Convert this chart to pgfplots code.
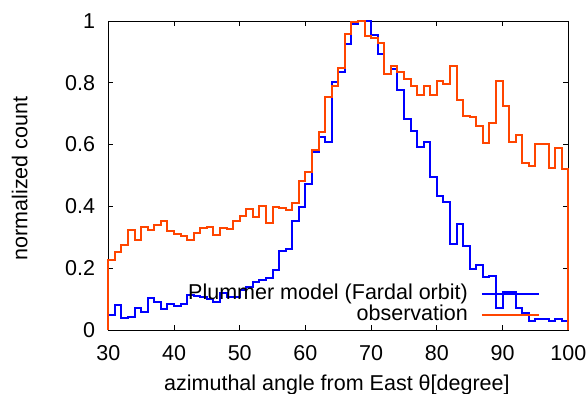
\documentclass[border=0pt]{standalone}
\usepackage{pgfplots}
\pgfplotsset{compat=1.18}
\usepackage{pgfplotstable}
\usepackage{fontspec}
\setmainfont{Liberation Sans}
\definecolor{obs}{RGB}{255,69,0}
\definecolor{mdl}{RGB}{0,0,255}
\newcommand{\chartfont}{\fontsize{21.5bp}{25bp}\selectfont}

\pgfplotstableread{
x y
30 0
30 0.050
31 0.080
32 0.039
33 0.042
34 0.072
35 0.057
36 0.102
37 0.092
38 0.068
39 0.084
40 0.077
41 0.083
42 0.113
43 0.110
44 0.106
45 0.101
46 0.092
47 0.121
48 0.106
49 0.106
50 0.129
51 0.140
52 0.155
53 0.162
54 0.167
55 0.194
56 0.257
57 0.261
58 0.354
59 0.397
60 0.471
61 0.577
62 0.626
63 0.609
64 0.801
65 0.834
66 0.925
67 0.990
68 1.000
69 1.000
70 0.955
71 0.893
72 0.829
73 0.845
74 0.778
75 0.684
76 0.644
77 0.592
78 0.610
79 0.495
80 0.434
81 0.414
82 0.279
83 0.344
84 0.272
85 0.196
86 0.210
87 0.170
88 0.175
89 0.070
90 0.124
91 0.122
92 0.070
93 0.054
94 0.030
95 0.037
96 0.037
97 0.030
98 0.037
99 0.030
100 0.030
100 0
}\model

\pgfplotstableread{
x y
30 0
30 0.227
31 0.253
32 0.275
33 0.324
34 0.291
35 0.334
36 0.324
37 0.340
38 0.354
39 0.320
40 0.311
41 0.304
42 0.290
43 0.315
44 0.329
45 0.334
46 0.306
47 0.331
48 0.326
49 0.354
50 0.370
51 0.390
52 0.366
53 0.401
54 0.346
55 0.399
56 0.396
57 0.389
58 0.411
59 0.483
60 0.512
61 0.583
62 0.640
63 0.755
64 0.790
65 0.847
66 0.958
67 0.998
68 1.000
69 0.950
70 0.946
71 0.930
72 0.829
73 0.853
74 0.836
75 0.812
76 0.790
77 0.760
78 0.790
79 0.760
80 0.806
81 0.796
82 0.855
83 0.745
84 0.693
85 0.690
86 0.660
87 0.604
88 0.669
89 0.806
90 0.726
91 0.610
92 0.630
93 0.539
94 0.530
95 0.602
96 0.602
97 0.523
98 0.588
99 0.521
100 0.521
100 0
}\observ

\begin{document}
\begin{tikzpicture}
\useasboundingbox (-108.3bp,-64bp) rectangle (478.7bp,330bp);
\begin{axis}[
  scale only axis,
  width=460bp, height=309bp,
  xmin=30, xmax=100, ymin=0, ymax=1,
  clip=false,
  xtick={30,40,50,60,70,80,90,100},
  xticklabels={30,40,50,60,70,80,90,100},
  ytick={0,0.2,0.4,0.6,0.8,1},
  yticklabels={0,0.2,0.4,0.6,0.8,1},
  tick align=inside,
  major tick length=5bp,
  tick style={black, line width=0.8bp},
  axis line style={black, line width=0.8bp},
  xticklabel style={font=\chartfont, anchor=base, inner sep=0pt, yshift=-30bp},
  yticklabel style={font=\chartfont, anchor=east, inner sep=0pt, xshift=-13bp},
  xlabel={azimuthal angle from East θ[degree]},
  ylabel={normalized count},
  xlabel style={font=\chartfont, at={(axis description cs:0.497,-0.197)}, anchor=base, inner sep=0pt},
  ylabel style={font=\chartfont, at={(axis description cs:-0.176,0.49)}, anchor=base, rotate=0, inner sep=0pt},
  legend plot pos=right,
  legend cell align=right,
  legend image code/.code={\draw[#1] (0bp,0bp) -- (57bp,0bp);},
  legend style={draw=none, fill=none, font=\chartfont,
    at={(axis description cs:0.9385,0.014)}, anchor=south east,
    inner sep=0pt, column sep=13bp, row sep=1.4bp,
    nodes={inner sep=0pt, text height=15bp, text depth=5bp}},
]
\addplot[mdl, line width=2bp, const plot mark left] table {\model};
\addlegendentry{Plummer model (Fardal orbit)}
\addplot[obs, line width=2bp, const plot mark left] table {\observ};
\addlegendentry{observation}
\end{axis}
\end{tikzpicture}
\end{document}
